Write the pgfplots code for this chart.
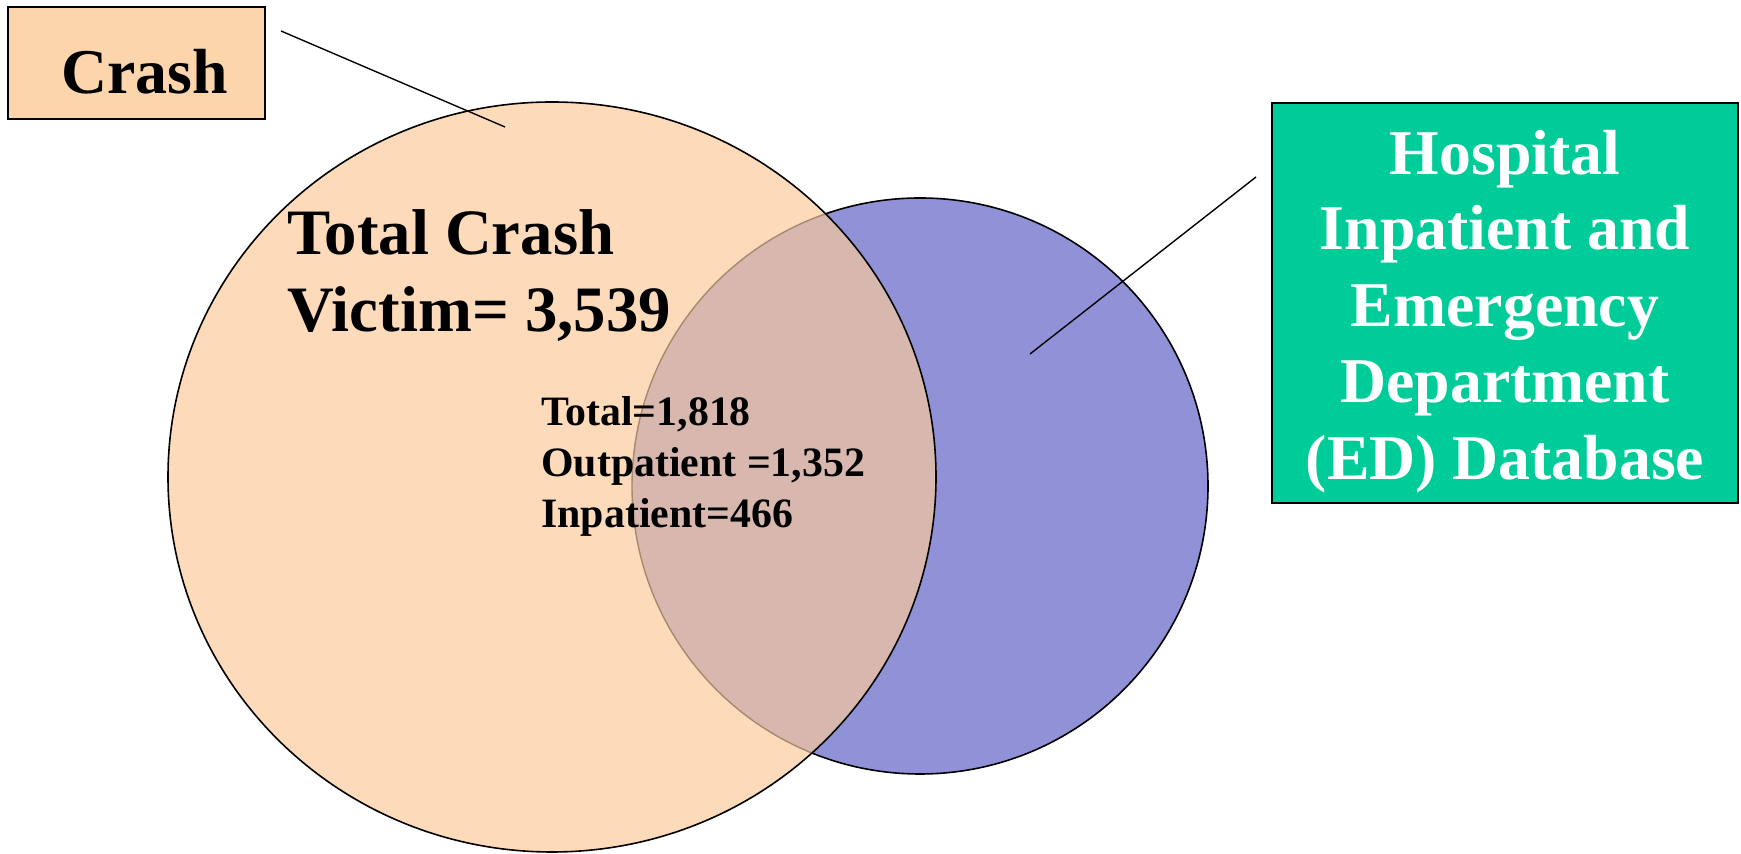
\documentclass[border=0pt]{standalone}
\usepackage{pgfplots}
\pgfplotsset{compat=1.18}
\usepackage{fontspec}
\setmainfont{Liberation Serif}
\definecolor{peach}{RGB}{253,219,186}
\definecolor{peachbox}{RGB}{252,213,172}
\definecolor{bluec}{RGB}{145,145,216}
\definecolor{overl}{RGB}{216,183,174}
\definecolor{faint}{RGB}{165,138,112}
\definecolor{greenbox}{RGB}{0,204,153}
\begin{document}
\begin{tikzpicture}
\begin{axis}[
  width=870.5bp, height=427bp, scale only axis,
  xmin=0, xmax=1741, ymin=0, ymax=854,
  hide axis, clip=false, anchor=south west, at={(0,0)},
]
% hospital circle
\fill[bluec] (axis cs:920,368) ellipse [x radius=288, y radius=288];
\draw[black, line width=0.8pt] (axis cs:920,368) ellipse [x radius=288, y radius=288];
% crash circle
\fill[peach] (axis cs:552,377) ellipse [x radius=384, y radius=375];
\begin{scope}
  \clip (axis cs:552,377) ellipse [x radius=384, y radius=375];
  \fill[overl] (axis cs:920,368) ellipse [x radius=288, y radius=288];
  \draw[faint, line width=0.7pt] (axis cs:920,368) ellipse [x radius=288, y radius=288];
\end{scope}
\draw[black, line width=0.8pt] (axis cs:552,377) ellipse [x radius=384, y radius=375];
% crash box
\draw[black, line width=1pt, fill=peachbox] (axis cs:8,847) rectangle (axis cs:265,735);
\node[anchor=base west, inner sep=0pt, font=\bfseries\fontsize{32}{38}\selectfont] at (axis cs:61,760) {Crash};
\draw[black, line width=0.7pt] (axis cs:281,823) -- (axis cs:505,727);
% hospital box
\draw[black, line width=1pt, fill=greenbox] (axis cs:1272,751) rectangle (axis cs:1738,351);
\node[anchor=base, inner sep=0pt, text=white, font=\bfseries\fontsize{32}{38}\selectfont] at (axis cs:1505,679) {Hospital};
\node[anchor=base, inner sep=0pt, text=white, font=\bfseries\fontsize{32}{38}\selectfont] at (axis cs:1505,604) {Inpatient and};
\node[anchor=base, inner sep=0pt, text=white, font=\bfseries\fontsize{32}{38}\selectfont] at (axis cs:1505,527) {Emergency};
\node[anchor=base, inner sep=0pt, text=white, font=\bfseries\fontsize{32}{38}\selectfont] at (axis cs:1505,451) {Department};
\node[anchor=base, inner sep=0pt, text=white, font=\bfseries\fontsize{32}{38}\selectfont] at (axis cs:1505,374) {(ED) Database};
\draw[black, line width=0.7pt] (axis cs:1256,677) -- (axis cs:1030,500);
% texts in circles
\node[anchor=base west, inner sep=0pt, font=\bfseries\fontsize{32.5}{39}\selectfont] at (axis cs:287,599) {Total Crash};
\node[anchor=base west, inner sep=0pt, font=\bfseries\fontsize{32.5}{39}\selectfont] at (axis cs:287,522) {Victim= 3,539};
\node[anchor=base west, inner sep=0pt, font=\bfseries\fontsize{21}{25}\selectfont] at (axis cs:541,428) {Total=1,818};
\node[anchor=base west, inner sep=0pt, font=\bfseries\fontsize{21}{25}\selectfont] at (axis cs:541,377) {Outpatient =1,352};
\node[anchor=base west, inner sep=0pt, font=\bfseries\fontsize{21}{25}\selectfont] at (axis cs:541,326) {Inpatient=466};
\end{axis}
\pgfresetboundingbox
\useasboundingbox (0,0) rectangle (870.5bp,427bp);
\end{tikzpicture}
\end{document}
